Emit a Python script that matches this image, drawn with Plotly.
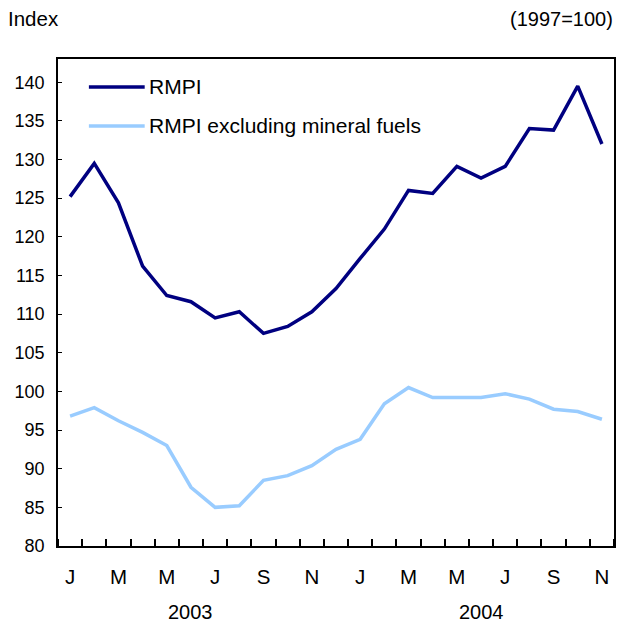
import plotly.graph_objects as go

months = list(range(23))
tick_pos = [0, 2, 4, 6, 8, 10, 12, 14, 16, 18, 20, 22]
tick_text = ["J", "M", "M", "J", "S", "N", "J", "M", "M", "J", "S", "N"]
years = ["2003", "2004"]
year_pos = [5, 17]
series_names = ["RMPI", "RMPI excluding mineral fuels"]
series_colors = ["#000080", "#99CCFF"]

rmpi = [125.2, 129.5, 124.4, 116.2, 112.4, 111.6, 109.5, 110.3, 107.5, 108.4, 110.3,
        113.3, 117.2, 121.0, 126.0, 125.6, 129.1, 127.6, 129.1, 134.0, 133.8, 139.5, 132.0]
rmpi_ex = [96.8, 97.9, 96.2, 94.7, 93.0, 87.6, 85.0, 85.2, 88.5, 89.1, 90.4,
           92.5, 93.8, 98.4, 100.5, 99.2, 99.2, 99.2, 99.7, 99.0, 97.7, 97.4, 96.4]

font = "Liberation Sans, Arial, sans-serif"
FS = 20

# plot area in pixels: x 58..616, y 59..546
PW, PH = 558, 487

def px(x):
    return (x - 58) / PW

def py(y):
    return (546 - y) / PH

fig = go.Figure()
for vals, name, col in zip([rmpi, rmpi_ex], series_names, series_colors):
    fig.add_trace(go.Scatter(x=months, y=vals, mode="lines", name=name,
                             line=dict(color=col, width=3.5), showlegend=False))

fig.update_layout(
    width=622, height=622,
    margin=dict(l=58, r=6, t=59, b=76),
    paper_bgcolor="white", plot_bgcolor="white",
    font=dict(family=font, size=FS, color="black"),
    showlegend=False,
    xaxis=dict(range=[-0.5, 22.5], tickvals=tick_pos, ticktext=tick_text,
               ticks="", showgrid=False, zeroline=False,
               showline=True, linecolor="black", linewidth=1.5, mirror=True,
               ticklabelstandoff=12, tickfont=dict(size=20.5),
               minor=dict(tickmode="linear", tick0=0.5, dtick=1, ticks="inside",
                          ticklen=7, tickcolor="black", tickwidth=1.5, showgrid=False)),
    yaxis=dict(range=[80, 143], tickvals=list(range(80, 141, 5)),
               ticks="inside", ticklen=4, tickwidth=1, tickcolor="black",
               showgrid=False, zeroline=False, tickfont=dict(size=18),
               showline=True, linecolor="black", linewidth=1.5, mirror=True,
               ticklabelstandoff=8),
)

# legend drawn manually (long line samples like the reference)
for i, (name, col) in enumerate(zip(series_names, series_colors)):
    yy = py(87 + 39 * i)
    fig.add_shape(type="line", xref="paper", yref="paper", x0=px(89), x1=px(145),
                  y0=yy, y1=yy, line=dict(color=col, width=3.5))
    fig.add_annotation(xref="paper", yref="paper", x=px(147), y=yy, text=name,
                       showarrow=False, font=dict(size=21), xanchor="left", yanchor="middle")

for yr, pos in zip(years, year_pos):
    fig.add_annotation(x=pos, y=py(612), xref="x", yref="paper", text=yr,
                       showarrow=False, font=dict(size=FS), yanchor="middle")

fig.add_annotation(xref="paper", yref="paper", x=px(6), y=py(19), text="Index",
                   showarrow=False, font=dict(size=20.5), xanchor="left", yanchor="middle")
fig.add_annotation(xref="paper", yref="paper", x=px(617), y=py(19), text="(1997=100)",
                   showarrow=False, font=dict(size=FS), xanchor="right", yanchor="middle")

fig.write_html("out.html", config={"displayModeBar": False},
               post_script="document.body.style.margin='0';")
